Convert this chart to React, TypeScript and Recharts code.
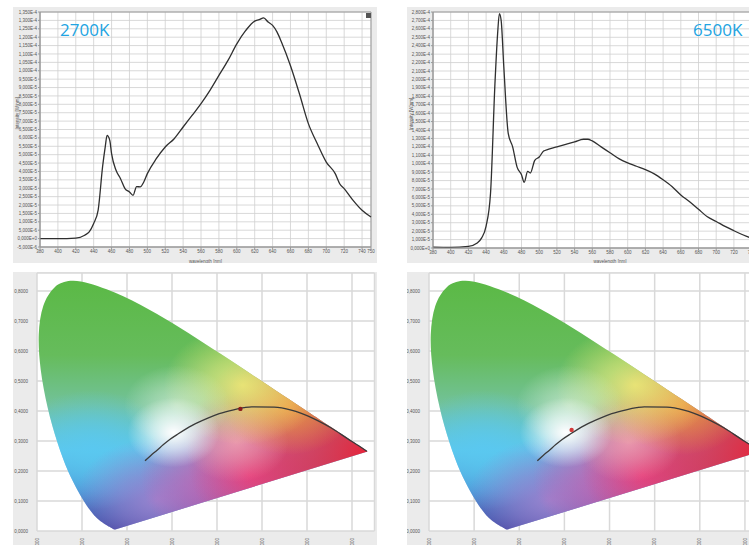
import React from "react";
import {
  CartesianGrid,
  Line,
  LineChart,
  ReferenceArea,
  Scatter,
  ScatterChart,
  XAxis,
  YAxis,
} from "recharts";

// spectral power distributions, intensity in units of 1E-6 W/nm
const wl2700 = [
  380, 400, 420, 430, 435, 440, 445, 450, 453, 455, 458, 460, 465, 470, 475, 480, 484, 488, 492, 496, 500,
  510, 520, 530, 540, 550, 560, 570, 580, 590, 600, 610, 620, 625, 630, 635, 640, 645, 650, 660, 670, 680,
  690, 700, 710, 715, 720, 730, 740, 750,
];
const int2700 = [
  0, 0, 0.3, 2, 4, 9, 17, 43, 55, 61.5, 58.5, 50.6, 40.7, 35.7, 29.8, 27.8, 25.8, 31, 30.8, 33.7, 38.7,
  47.6, 54.6, 59.5, 66.5, 73.4, 80.4, 88.3, 97.2, 106, 116, 124, 129.6, 130.4, 131.5, 129, 127, 123, 117,
  103, 86.3, 68.5, 56.5, 45.6, 38.7, 32.7, 29.8, 22.8, 16.9, 12.9,
];

const wl6500 = [
  380, 400, 420, 430, 435, 440, 445, 450, 453, 455, 457, 460, 465, 470, 475, 480, 483, 487, 490, 495, 500,
  505, 510, 520, 530, 540, 550, 555, 560, 570, 580, 590, 600, 610, 620, 630, 640, 650, 660, 670, 680, 690,
  700, 710, 720, 730, 740,
];
const int6500 = [
  1, 0.8, 2, 6, 12, 26, 65, 195, 254, 278, 270, 215, 136, 120, 96, 87, 78, 91, 89, 104, 108, 115, 117, 120,
  123, 126, 129, 129, 127, 120, 113, 106, 101, 97, 93, 88, 81, 73, 63, 55, 46, 37, 31.5, 25.6, 20.5, 15.7,
  11.5,
];

const ticks2700X = [380, 400, 420, 440, 460, 480, 500, 520, 540, 560, 580, 600, 620, 640, 660, 680, 700, 720, 740, 750];
const ticks6500X = [380, 400, 420, 440, 460, 480, 500, 520, 540, 560, 580, 600, 620, 640, 660, 680, 700, 720, 740, 760, 780];
const ticks2700Y = Array.from({ length: 29 }, (_, i) => -5 + 5 * i);
const ticks6500Y = Array.from({ length: 29 }, (_, i) => 10 * i);

// CIE 1931 spectral locus (x, y), 380 nm -> 700 nm
const locusX = [
  0.1741, 0.1733, 0.1714, 0.1689, 0.1644, 0.1611, 0.1566, 0.151, 0.144, 0.1355, 0.1241, 0.1096, 0.0913,
  0.0687, 0.0454, 0.0235, 0.0082, 0.0039, 0.0139, 0.0389, 0.0743, 0.1142, 0.1547, 0.1929, 0.2296, 0.2658,
  0.3016, 0.3373, 0.3731, 0.4087, 0.4441, 0.4788, 0.5125, 0.5448, 0.5752, 0.6029, 0.627, 0.6658, 0.6915,
  0.7079, 0.719, 0.73, 0.7347,
];
const locusY = [
  0.005, 0.0048, 0.0051, 0.0069, 0.0109, 0.0138, 0.0177, 0.0227, 0.0297, 0.0399, 0.0578, 0.0868, 0.1327,
  0.2007, 0.295, 0.4127, 0.5384, 0.6548, 0.7502, 0.812, 0.8338, 0.8262, 0.8059, 0.7816, 0.7543, 0.7243,
  0.6923, 0.6589, 0.6245, 0.5896, 0.5547, 0.5202, 0.4866, 0.4544, 0.4242, 0.3965, 0.3725, 0.334, 0.3083,
  0.292, 0.2809, 0.27, 0.2653,
];

// blackbody (Planckian) locus
const planckX = [
  0.24, 0.253, 0.265, 0.281, 0.295, 0.314, 0.345, 0.381, 0.405, 0.437, 0.46, 0.477, 0.527, 0.565, 0.586,
  0.625, 0.653, 0.69, 0.715, 0.733,
];
const planckY = [
  0.234, 0.252, 0.267, 0.288, 0.305, 0.324, 0.352, 0.377, 0.391, 0.404, 0.411, 0.414, 0.413, 0.403, 0.393,
  0.367, 0.344, 0.308, 0.284, 0.266,
];

const point2700 = [{ x: 0.452, y: 0.407 }];
const point6500 = [{ x: 0.316, y: 0.337 }];
const cieTicksX = [0, 0.1, 0.2, 0.3, 0.4, 0.5, 0.6, 0.7];
const cieTicksY = [0, 0.1, 0.2, 0.3, 0.4, 0.5, 0.6, 0.7, 0.8];

const spec2700 = wl2700.map((nm, i) => ({ nm, v: int2700[i] }));
const spec6500 = wl6500.map((nm, i) => ({ nm, v: int6500[i] }));
const locus = locusX.map((x, i) => ({ x, y: locusY[i] }));
const planck = planckX.map((x, i) => ({ x, y: planckY[i] }));

const tickFont = { fontSize: 4.5, fill: "#555555", fontFamily: "Liberation Sans, Arial, sans-serif" };

const fmtE = (v: number) => (v === 0 ? "0,000E+0" : (v * 1e-6).toExponential(3).replace(".", ",").replace("e", "E"));
const fmtCie = (v: number) => v.toFixed(4).replace(".", ",");

// soft colour glows that tint the horseshoe (bbox fractions)
const glows = [
  { id: "cyan", cx: 0.16, cy: 0.68, r: 0.24, color: "#5ac8f0", o: 0.9 },
  { id: "purple", cx: 0.36, cy: 0.88, r: 0.25, color: "#a283cf", o: 0.9 },
  { id: "pink", cx: 0.64, cy: 0.78, r: 0.33, color: "#ec4f9f", o: 0.95 },
  { id: "red", cx: 1.0, cy: 0.69, r: 0.55, color: "#e8233a", o: 1 },
  { id: "peach", cx: 0.6, cy: 0.65, r: 0.16, color: "#f5a8b6", o: 0.75 },
  { id: "orange", cx: 0.76, cy: 0.5, r: 0.2, color: "#f39a3c", o: 0.85 },
  { id: "yellow", cx: 0.62, cy: 0.42, r: 0.24, color: "#f6ee78", o: 0.85 },
  { id: "mint", cx: 0.42, cy: 0.5, r: 0.16, color: "#e4f4d8", o: 0.6 },
  { id: "white", cx: 0.41, cy: 0.61, r: 0.14, color: "#ffffff", o: 1 },
];

// smooth closed outline: catmull-rom along the spectral locus, straight purple line back
const smoothPath = (pts: { x: number; y: number }[]) => {
  let d = `M${pts[0].x},${pts[0].y}`;
  for (let i = 0; i < pts.length - 1; i++) {
    const p0 = pts[i - 1] || pts[i];
    const p1 = pts[i];
    const p2 = pts[i + 1];
    const p3 = pts[i + 2] || p2;
    const c1x = p1.x + (p2.x - p0.x) / 6;
    const c1y = p1.y + (p2.y - p0.y) / 6;
    const c2x = p2.x - (p3.x - p1.x) / 6;
    const c2y = p2.y - (p3.y - p1.y) / 6;
    d += `C${c1x},${c1y} ${c2x},${c2y} ${p2.x},${p2.y}`;
  }
  return d + "Z";
};

const renderLocus = (prefix: string) => (props: any) => {
  const pts = props.points || [];
  if (!pts.length) return <g />;
  const d = smoothPath(pts);
  return (
    <g>
      <defs>
        <linearGradient id={`${prefix}-base`} x1="0" y1="0" x2="0" y2="1">
          <stop offset="0" stopColor="#5bb946" />
          <stop offset="0.3" stopColor="#66bc5c" />
          <stop offset="0.5" stopColor="#72c29a" />
          <stop offset="0.68" stopColor="#5cc7ec" />
          <stop offset="0.84" stopColor="#4b8fd4" />
          <stop offset="1" stopColor="#3b44a0" />
        </linearGradient>
        {glows.map((g) => (
          <radialGradient key={g.id} id={`${prefix}-${g.id}`} cx={g.cx} cy={g.cy} r={g.r}>
            <stop offset="0" stopColor={g.color} stopOpacity={g.o} />
            <stop offset="0.45" stopColor={g.color} stopOpacity={g.o * 0.6} />
            <stop offset="1" stopColor={g.color} stopOpacity={0} />
          </radialGradient>
        ))}
      </defs>
      <path d={d} fill={`url(#${prefix}-base)`} />
      {glows.map((g) => (
        <path key={g.id} d={d} fill={`url(#${prefix}-${g.id})`} />
      ))}
    </g>
  );
};

const RotTick = (props: any) => {
  const { x, y, payload } = props;
  return (
    <text
      transform={`translate(${x + 1.6},${y - 1}) rotate(-90)`}
      textAnchor="end"
      fontSize={4.5}
      fill="#555555"
      fontFamily="Liberation Sans, Arial, sans-serif"
    >
      {fmtCie(payload.value)}
    </text>
  );
};

const noShape = () => <g />;
const dotShape = (color: string) => (p: any) => <circle cx={p.cx} cy={p.cy} r={2.2} fill={color} />;

function Spectrum(props: {
  data: { nm: number; v: number }[];
  width: number;
  yWidth: number;
  xHeight: number;
  xDomain: [number, number];
  yDomain: [number, number];
  xTicks: number[];
  yTicks: number[];
}) {
  const { data, width, yWidth, xHeight, xDomain, yDomain, xTicks, yTicks } = props;
  return (
    <LineChart width={width} height={256} data={data} margin={{ top: 5, right: 6, bottom: 0, left: 0 }}>
      <CartesianGrid stroke="#cfcfcf" strokeWidth={0.8} fill="#ffffff" />
      <XAxis
        dataKey="nm"
        type="number"
        domain={xDomain}
        ticks={xTicks}
        height={xHeight}
        tick={tickFont}
        tickSize={2}
        tickMargin={1}
        axisLine={{ stroke: "#9a9a9a" }}
        tickLine={{ stroke: "#9a9a9a" }}
        interval={0}
        label={{ value: "wavelength [nm]", position: "insideBottom", offset: 0, ...tickFont }}
      />
      <YAxis
        type="number"
        domain={yDomain}
        ticks={yTicks}
        width={yWidth}
        tick={tickFont}
        tickFormatter={fmtE}
        tickSize={2}
        tickMargin={1}
        interval={0}
        axisLine={{ stroke: "#9a9a9a" }}
        tickLine={{ stroke: "#9a9a9a" }}
        label={{ value: "Intensity [W/nm]", angle: -90, position: "insideLeft", offset: 4, ...tickFont }}
      />
      <ReferenceArea
        x1={xDomain[0]}
        x2={xDomain[1]}
        y1={yDomain[0]}
        y2={yDomain[1]}
        fill="none"
        stroke="#9a9a9a"
        strokeWidth={1}
      />
      <Line
        dataKey="v"
        type="monotone"
        stroke="#2f2f2f"
        strokeWidth={1.3}
        dot={false}
        isAnimationActive={false}
      />
    </LineChart>
  );
}

function Chromaticity(props: { width: number; yWidth: number; prefix: string; point: { x: number; y: number }[]; dotColor: string }) {
  const { width, yWidth, prefix, point, dotColor } = props;
  return (
    <ScatterChart width={width} height={273} margin={{ top: 1, right: 2.5, bottom: 0, left: 0 }}>
      <CartesianGrid stroke="#d9d9d9" strokeWidth={1.5} fill="#ffffff" />
      <XAxis
        dataKey="x"
        type="number"
        domain={[0, 0.75]}
        ticks={cieTicksX}
        height={14}
        tick={<RotTick />}
        tickLine={false}
        axisLine={false}
        interval={0}
      />
      <YAxis
        dataKey="y"
        type="number"
        domain={[0, 0.86]}
        ticks={cieTicksY}
        width={yWidth}
        tick={tickFont}
        tickFormatter={fmtCie}
        tickLine={false}
        axisLine={false}
        tickMargin={3}
        interval={0}
      />
      <Scatter
        data={locus}
        fill="#5bb946"
        line={renderLocus(prefix)}
        lineType="joint"
        shape={noShape}
        isAnimationActive={false}
      />
      <Scatter
        data={planck}
        fill="#333333"
        line={{ stroke: "#3a3a3a", strokeWidth: 1.3 }}
        lineType="joint"
        lineJointType="monotoneX"
        shape={noShape}
        isAnimationActive={false}
      />
      <Scatter data={point} fill={dotColor} shape={dotShape(dotColor)} isAnimationActive={false} />
    </ScatterChart>
  );
}

const labelStyle: React.CSSProperties = {
  position: "absolute",
  color: "#22a4e2",
  fontFamily: "'Open Sans', 'DejaVu Sans', sans-serif",
  fontSize: 17,
  lineHeight: "17px",
};

export default function App() {
  return (
    <div
      style={{
        position: "absolute",
        left: 0,
        top: 0,
        width: 749,
        height: 545,
        overflow: "hidden",
        background: "#ffffff",
      }}
    >
      <div style={{ position: "absolute", left: 13, top: 7, width: 364, height: 256, background: "#ebebeb" }}>
        <Spectrum
          data={spec2700}
          width={364}
          yWidth={27}
          xHeight={16}
          xDomain={[380, 750]}
          yDomain={[-5, 135]}
          xTicks={ticks2700X}
          yTicks={ticks2700Y}
        />
      </div>
      <div style={{ position: "absolute", left: 366, top: 13, width: 5, height: 5, background: "#555" }} />
      <div style={{ ...labelStyle, left: 60, top: 21 }}>2700K</div>

      <div style={{ position: "absolute", left: 407, top: 7, width: 386, height: 256, background: "#ebebeb" }}>
        <Spectrum
          data={spec6500}
          width={386}
          yWidth={26}
          xHeight={15}
          xDomain={[380, 780]}
          yDomain={[0, 280]}
          xTicks={ticks6500X}
          yTicks={ticks6500Y}
        />
      </div>
      <div style={{ ...labelStyle, left: 693, top: 21 }}>6500K</div>

      <div style={{ position: "absolute", left: 13, top: 272, width: 364, height: 273, background: "#ebebeb" }}>
        <Chromaticity width={364} yWidth={24} prefix="cieA" point={point2700} dotColor="#8c1b1b" />
      </div>
      <div style={{ position: "absolute", left: 407, top: 272, width: 363, height: 273, background: "#ebebeb" }}>
        <Chromaticity width={363} yWidth={22} prefix="cieB" point={point6500} dotColor="#d23a3a" />
      </div>
    </div>
  );
}
